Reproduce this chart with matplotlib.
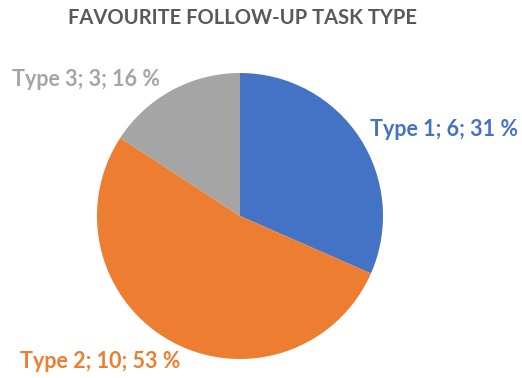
import matplotlib
matplotlib.use("Agg")
import matplotlib.pyplot as plt

# Survey results: favourite follow-up task type
categories = ["Type 1", "Type 2", "Type 3"]
counts = [6, 10, 3]
percent_labels = ["31 %", "53 %", "16 %"]
colors = ["#4472C4", "#ED7D31", "#A5A5A5"]

W, H = 522, 378
fig = plt.figure(figsize=(W / 100, H / 100), dpi=100)
ax = fig.add_axes([0, 0, 1, 1])

cx, cy, r = 240, H - 216, 143
ax.pie(counts, colors=colors, startangle=90, counterclock=False,
       center=(cx, cy), radius=r, frame=True,
       wedgeprops=dict(linewidth=0))
ax.set_xlim(0, W)
ax.set_ylim(0, H)
ax.set_aspect("equal")
ax.axis("off")

font = "Lato"
ax.text(242, H - 18, "FAVOURITE FOLLOW-UP TASK TYPE", ha="center", va="center",
        fontsize=14.5, fontweight="bold", color="#595959", family=font)

label_pos = [(370, H - 130), (20, H - 362), (12, H - 80)]
for cat, n, pct, col, (x, y) in zip(categories, counts, percent_labels, colors, label_pos):
    ax.text(x, y, f"{cat}; {n}; {pct}", ha="left", va="center", fontsize=15.5,
            fontweight="bold", color=col, family=font)

fig.savefig("out.png", dpi=100)
